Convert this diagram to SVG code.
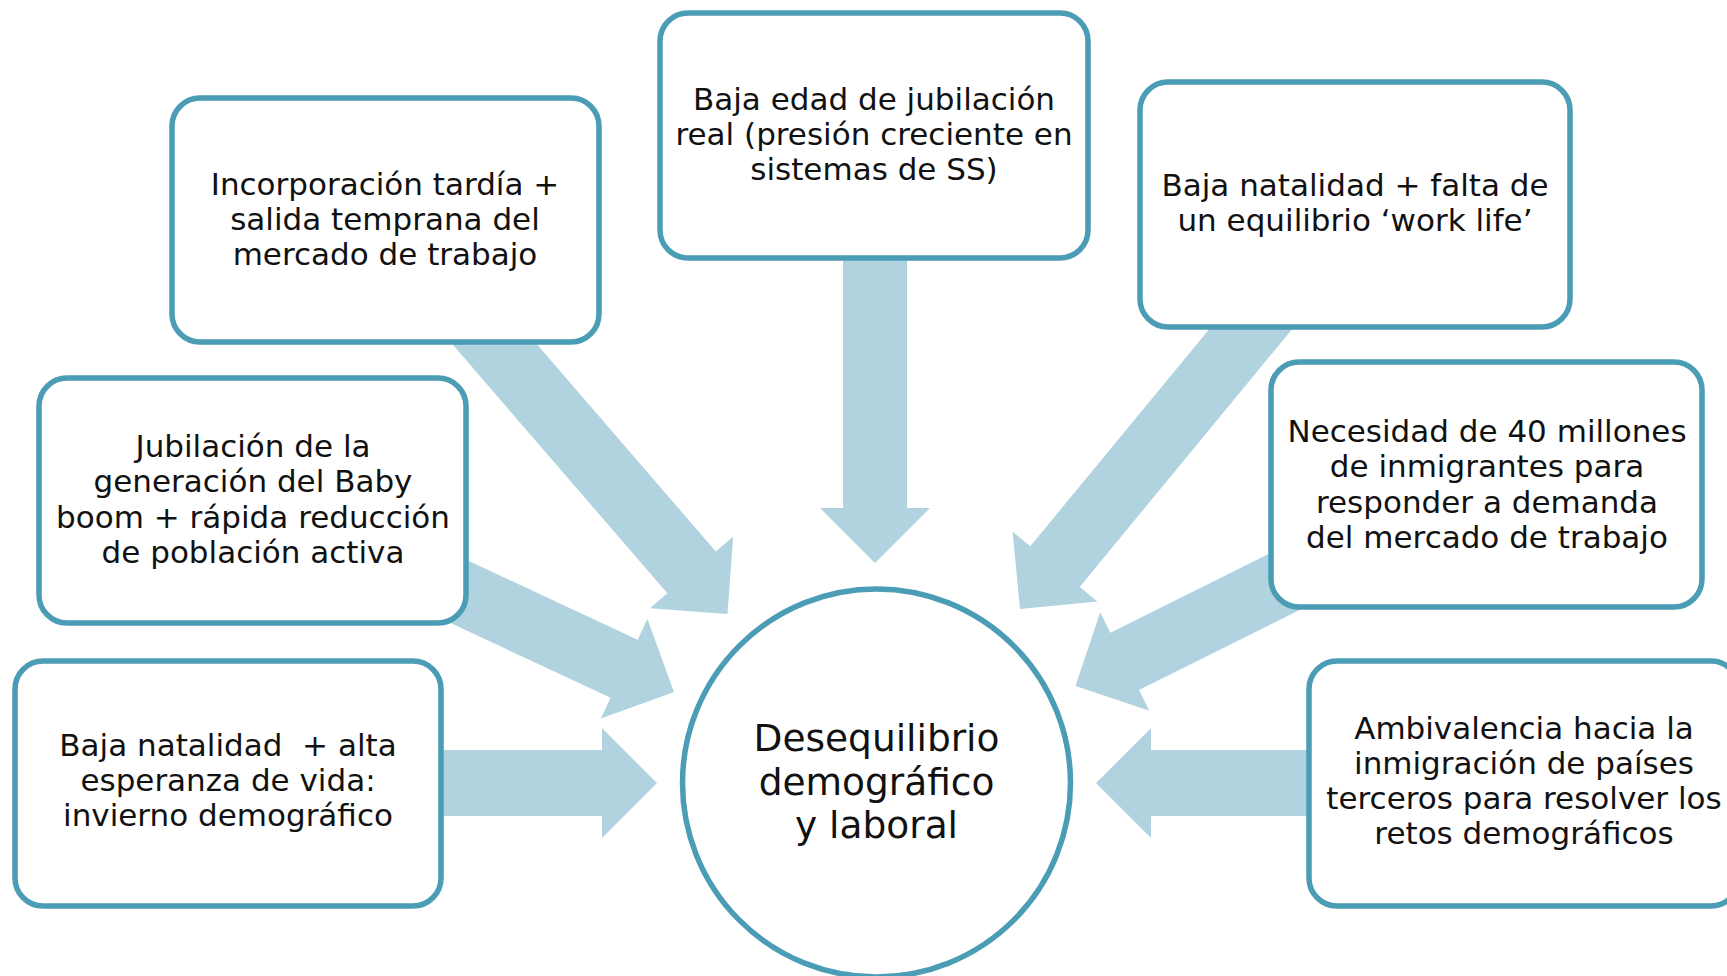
<svg xmlns="http://www.w3.org/2000/svg" width="1727" height="976" viewBox="0 0 1727 976">
<style>
.box{fill:#ffffff;stroke:#4B9CB5;stroke-width:5.5}
.arr{fill:#B1D3DF}
.t{font-family:"DejaVu Sans","Liberation Sans",sans-serif;font-size:31px;fill:#111111;text-anchor:middle}
.c{font-family:"DejaVu Sans","Liberation Sans",sans-serif;font-size:37.5px;fill:#111111;text-anchor:middle}
</style>
<rect width="1727" height="976" fill="#ffffff"/>
<g id="connectors">
<polygon class="arr" transform="translate(727.5,614) rotate(49.2)" points="-400,-32 -55,-32 -55,-55 0,0 -55,55 -55,32 -400,32"/>
<polygon class="arr" transform="translate(674,692) rotate(25)" points="-260,-32 -55,-32 -55,-55 0,0 -55,55 -55,32 -260,32"/>
<polygon class="arr" transform="translate(657,783)" points="-240,-33 -55,-33 -55,-55 0,0 -55,55 -55,33 -240,33"/>
<polygon class="arr" transform="translate(875,563) rotate(90)" points="-320,-32 -55,-32 -55,-55 0,0 -55,55 -55,32 -320,32"/>
<polygon class="arr" transform="translate(1020,609) rotate(129.5)" points="-410,-32 -55,-32 -55,-55 0,0 -55,55 -55,32 -410,32"/>
<polygon class="arr" transform="translate(1075.5,686) rotate(153.5)" points="-260,-32 -55,-32 -55,-55 0,0 -55,55 -55,32 -260,32"/>
<polygon class="arr" transform="translate(1096,783) rotate(180)" points="-240,-33 -55,-33 -55,-55 0,0 -55,55 -55,33 -240,33"/>
</g>
<g id="n1">
<rect class="box" x="172" y="98" width="427" height="244" rx="28"/>
<text class="t" x="385" y="195">Incorporación tardía +</text>
<text class="t" x="385" y="230">salida temprana del</text>
<text class="t" x="385" y="265">mercado de trabajo</text>
</g>
<g id="n2">
<rect class="box" x="660" y="13" width="428" height="245" rx="28"/>
<text class="t" x="874" y="110">Baja edad de jubilación</text>
<text class="t" x="874" y="145">real (presión creciente en</text>
<text class="t" x="874" y="180">sistemas de SS)</text>
</g>
<g id="n3">
<rect class="box" x="1140" y="82" width="430" height="245" rx="28"/>
<text class="t" x="1355" y="196">Baja natalidad + falta de</text>
<text class="t" x="1355" y="231">un equilibrio ‘work life’</text>
</g>
<g id="n4">
<rect class="box" x="1271" y="362" width="431" height="245" rx="28"/>
<text class="t" x="1487" y="442">Necesidad de 40 millones</text>
<text class="t" x="1487" y="477">de inmigrantes para</text>
<text class="t" x="1487" y="513">responder a demanda</text>
<text class="t" x="1487" y="548">del mercado de trabajo</text>
</g>
<g id="n5">
<rect class="box" x="39" y="378" width="427" height="245" rx="28"/>
<text class="t" x="253" y="457">Jubilación de la</text>
<text class="t" x="253" y="492">generación del Baby</text>
<text class="t" x="253" y="528">boom + rápida reducción</text>
<text class="t" x="253" y="563">de población activa</text>
</g>
<g id="n6">
<rect class="box" x="15" y="661" width="426" height="245" rx="28"/>
<text class="t" x="228" y="756" style="white-space:pre">Baja natalidad  + alta</text>
<text class="t" x="228" y="791">esperanza de vida:</text>
<text class="t" x="228" y="826">invierno demográfico</text>
</g>
<g id="n7">
<rect class="box" x="1309" y="661" width="430" height="245" rx="28"/>
<text class="t" x="1524" y="739">Ambivalencia hacia la</text>
<text class="t" x="1524" y="774">inmigración de países</text>
<text class="t" x="1524" y="809">terceros para resolver los</text>
<text class="t" x="1524" y="844">retos demográficos</text>
</g>
<g id="center">
<circle class="box" cx="876.5" cy="783" r="194"/>
<text class="c" x="876.5" y="751">Desequilibrio</text>
<text class="c" x="876.5" y="795">demográfico</text>
<text class="c" x="876.5" y="838">y laboral</text>
</g>
</svg>
